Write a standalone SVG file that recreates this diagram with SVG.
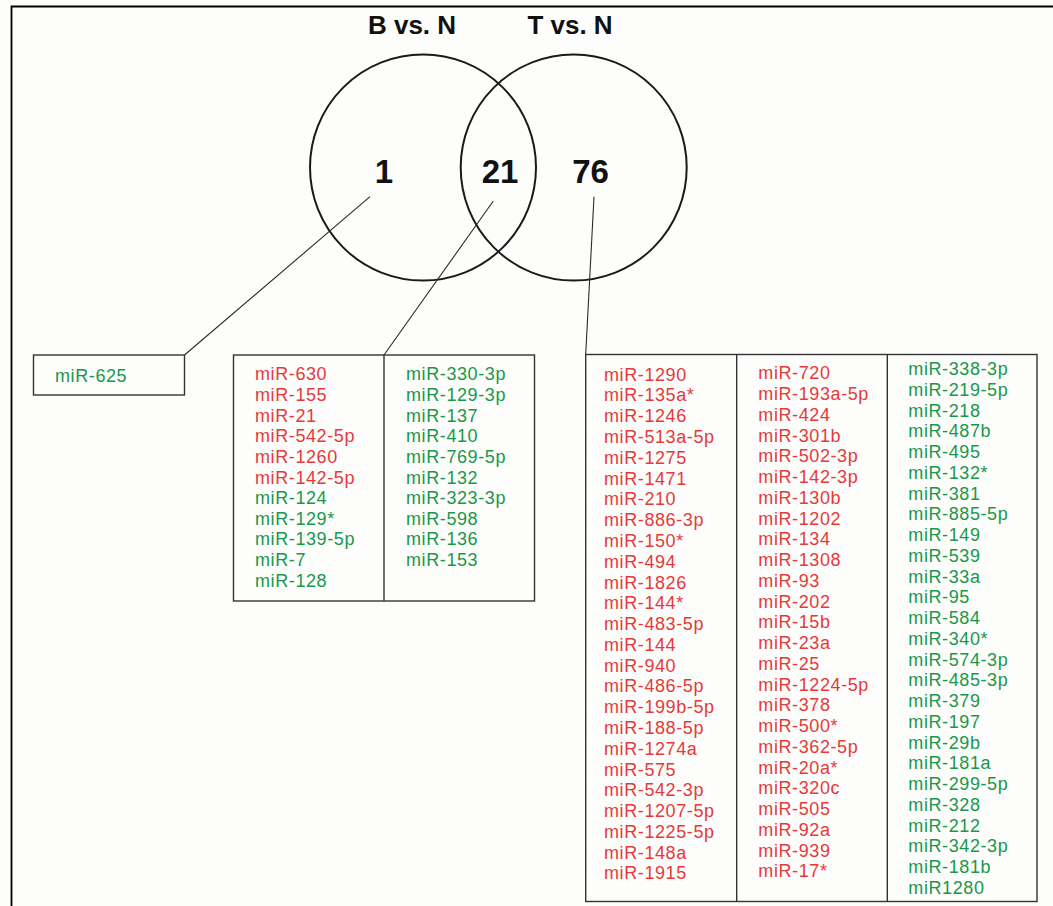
<svg xmlns="http://www.w3.org/2000/svg" width="1053" height="906" viewBox="0 0 1053 906">
<style>
.title{font-family:"Liberation Sans",Arial,sans-serif;font-weight:bold;font-size:26px;fill:#111;text-anchor:middle}
.num{font-family:"Liberation Sans",Arial,sans-serif;font-weight:bold;font-size:33px;fill:#111;text-anchor:middle}
.lst{font-family:"Liberation Sans",Arial,sans-serif;font-size:18px;letter-spacing:0.6px}
.r{fill:#e53a3a}
.g{fill:#18984a}
.box{fill:none;stroke:#333;stroke-width:1.4}
.circ{fill:none;stroke:#1a1a1a;stroke-width:2}
.conn{fill:none;stroke:#2a2a2a;stroke-width:1.1}
</style>
<rect x="0" y="0" width="1053" height="906" fill="#fdfdfb"/>
<path d="M11.5 906 V6.5 H1053" fill="none" stroke="#000" stroke-width="1.8"/>
<g id="titles">
<text class="title" x="412" y="34">B vs. N</text>
<text class="title" x="570" y="34">T vs. N</text>
</g>
<g id="set-B">
<circle class="circ" cx="423" cy="167.5" r="113"/>
<text class="num" x="384" y="182.7">1</text>
</g>
<g id="set-T">
<circle class="circ" cx="573.7" cy="167.5" r="113"/>
<text class="num" x="590.5" y="182.7">76</text>
</g>
<g id="overlap">
<text class="num" x="500" y="182.7">21</text>
</g>
<g id="connectors">
<line class="conn" x1="370" y1="196.7" x2="184.5" y2="355"/>
<line class="conn" x1="493.3" y1="201" x2="384" y2="355"/>
<line class="conn" x1="594" y1="196.7" x2="585.7" y2="354.5"/>
</g>
<g id="box-B-only">
<rect class="box" x="33.5" y="355" width="151" height="40"/>
<text class="lst g" x="55" y="381.7">miR-625</text>
</g>
<g id="box-common">
<rect class="box" x="233.5" y="355" width="301" height="246"/>
<line class="box" x1="384" y1="355" x2="384" y2="601"/>
<text class="lst" y="380.3">
<tspan class="r" x="255">miR-630</tspan>
<tspan class="r" x="255" dy="20.64">miR-155</tspan>
<tspan class="r" x="255" dy="20.64">miR-21</tspan>
<tspan class="r" x="255" dy="20.64">miR-542-5p</tspan>
<tspan class="r" x="255" dy="20.64">miR-1260</tspan>
<tspan class="r" x="255" dy="20.64">miR-142-5p</tspan>
<tspan class="g" x="255" dy="20.64">miR-124</tspan>
<tspan class="g" x="255" dy="20.64">miR-129*</tspan>
<tspan class="g" x="255" dy="20.64">miR-139-5p</tspan>
<tspan class="g" x="255" dy="20.64">miR-7</tspan>
<tspan class="g" x="255" dy="20.64">miR-128</tspan>
</text>
<text class="lst g" y="380.3">
<tspan x="406">miR-330-3p</tspan>
<tspan x="406" dy="20.64">miR-129-3p</tspan>
<tspan x="406" dy="20.64">miR-137</tspan>
<tspan x="406" dy="20.64">miR-410</tspan>
<tspan x="406" dy="20.64">miR-769-5p</tspan>
<tspan x="406" dy="20.64">miR-132</tspan>
<tspan x="406" dy="20.64">miR-323-3p</tspan>
<tspan x="406" dy="20.64">miR-598</tspan>
<tspan x="406" dy="20.64">miR-136</tspan>
<tspan x="406" dy="20.64">miR-153</tspan>
</text>
</g>
<g id="box-T-only">
<rect class="box" x="585.7" y="354.5" width="451.3" height="547"/>
<line class="box" x1="736.7" y1="354.5" x2="736.7" y2="901.5"/>
<line class="box" x1="887.3" y1="354.5" x2="887.3" y2="901.5"/>
<text class="lst r" y="380.7">
<tspan x="604">miR-1290</tspan>
<tspan x="604" dy="20.78">miR-135a*</tspan>
<tspan x="604" dy="20.78">miR-1246</tspan>
<tspan x="604" dy="20.78">miR-513a-5p</tspan>
<tspan x="604" dy="20.78">miR-1275</tspan>
<tspan x="604" dy="20.78">miR-1471</tspan>
<tspan x="604" dy="20.78">miR-210</tspan>
<tspan x="604" dy="20.78">miR-886-3p</tspan>
<tspan x="604" dy="20.78">miR-150*</tspan>
<tspan x="604" dy="20.78">miR-494</tspan>
<tspan x="604" dy="20.78">miR-1826</tspan>
<tspan x="604" dy="20.78">miR-144*</tspan>
<tspan x="604" dy="20.78">miR-483-5p</tspan>
<tspan x="604" dy="20.78">miR-144</tspan>
<tspan x="604" dy="20.78">miR-940</tspan>
<tspan x="604" dy="20.78">miR-486-5p</tspan>
<tspan x="604" dy="20.78">miR-199b-5p</tspan>
<tspan x="604" dy="20.78">miR-188-5p</tspan>
<tspan x="604" dy="20.78">miR-1274a</tspan>
<tspan x="604" dy="20.78">miR-575</tspan>
<tspan x="604" dy="20.78">miR-542-3p</tspan>
<tspan x="604" dy="20.78">miR-1207-5p</tspan>
<tspan x="604" dy="20.78">miR-1225-5p</tspan>
<tspan x="604" dy="20.78">miR-148a</tspan>
<tspan x="604" dy="20.78">miR-1915</tspan>
</text>
<text class="lst r" y="379.3">
<tspan x="758.3">miR-720</tspan>
<tspan x="758.3" dy="20.75">miR-193a-5p</tspan>
<tspan x="758.3" dy="20.75">miR-424</tspan>
<tspan x="758.3" dy="20.75">miR-301b</tspan>
<tspan x="758.3" dy="20.75">miR-502-3p</tspan>
<tspan x="758.3" dy="20.75">miR-142-3p</tspan>
<tspan x="758.3" dy="20.75">miR-130b</tspan>
<tspan x="758.3" dy="20.75">miR-1202</tspan>
<tspan x="758.3" dy="20.75">miR-134</tspan>
<tspan x="758.3" dy="20.75">miR-1308</tspan>
<tspan x="758.3" dy="20.75">miR-93</tspan>
<tspan x="758.3" dy="20.75">miR-202</tspan>
<tspan x="758.3" dy="20.75">miR-15b</tspan>
<tspan x="758.3" dy="20.75">miR-23a</tspan>
<tspan x="758.3" dy="20.75">miR-25</tspan>
<tspan x="758.3" dy="20.75">miR-1224-5p</tspan>
<tspan x="758.3" dy="20.75">miR-378</tspan>
<tspan x="758.3" dy="20.75">miR-500*</tspan>
<tspan x="758.3" dy="20.75">miR-362-5p</tspan>
<tspan x="758.3" dy="20.75">miR-20a*</tspan>
<tspan x="758.3" dy="20.75">miR-320c</tspan>
<tspan x="758.3" dy="20.75">miR-505</tspan>
<tspan x="758.3" dy="20.75">miR-92a</tspan>
<tspan x="758.3" dy="20.75">miR-939</tspan>
<tspan x="758.3" dy="20.75">miR-17*</tspan>
</text>
<text class="lst g" y="375">
<tspan x="908.3">miR-338-3p</tspan>
<tspan x="908.3" dy="20.76">miR-219-5p</tspan>
<tspan x="908.3" dy="20.76">miR-218</tspan>
<tspan x="908.3" dy="20.76">miR-487b</tspan>
<tspan x="908.3" dy="20.76">miR-495</tspan>
<tspan x="908.3" dy="20.76">miR-132*</tspan>
<tspan x="908.3" dy="20.76">miR-381</tspan>
<tspan x="908.3" dy="20.76">miR-885-5p</tspan>
<tspan x="908.3" dy="20.76">miR-149</tspan>
<tspan x="908.3" dy="20.76">miR-539</tspan>
<tspan x="908.3" dy="20.76">miR-33a</tspan>
<tspan x="908.3" dy="20.76">miR-95</tspan>
<tspan x="908.3" dy="20.76">miR-584</tspan>
<tspan x="908.3" dy="20.76">miR-340*</tspan>
<tspan x="908.3" dy="20.76">miR-574-3p</tspan>
<tspan x="908.3" dy="20.76">miR-485-3p</tspan>
<tspan x="908.3" dy="20.76">miR-379</tspan>
<tspan x="908.3" dy="20.76">miR-197</tspan>
<tspan x="908.3" dy="20.76">miR-29b</tspan>
<tspan x="908.3" dy="20.76">miR-181a</tspan>
<tspan x="908.3" dy="20.76">miR-299-5p</tspan>
<tspan x="908.3" dy="20.76">miR-328</tspan>
<tspan x="908.3" dy="20.76">miR-212</tspan>
<tspan x="908.3" dy="20.76">miR-342-3p</tspan>
<tspan x="908.3" dy="20.76">miR-181b</tspan>
<tspan x="908.3" dy="20.76">miR1280</tspan>
</text>
</g>
</svg>
